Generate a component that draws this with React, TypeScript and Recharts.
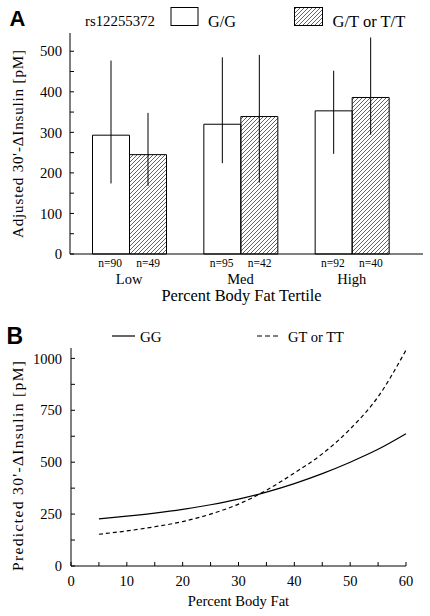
import React from "react";
import {
  BarChart,
  Bar,
  ErrorBar,
  LineChart,
  Line,
  XAxis,
  YAxis,
} from "recharts";

// Panel A: tertiles of body fat
const tertiles = ["Low", "Med", "High"];
const meanGG = [293, 320, 353];
const lowGG = [174, 224, 247];
const highGG = [477, 485, 452];
const meanGT = [245, 339, 386];
const lowGT = [168, 176, 294];
const highGT = [348, 491, 534];
const nGG = [90, 95, 92];
const nGT = [49, 42, 40];
const yTicksA = [0, 50, 100, 150, 200, 250, 300, 350, 400, 450, 500];

// Panel B: predicted curves
const fatPct = [5, 10, 15, 20, 25, 30, 35, 40, 45, 50, 55, 60];
const predGG = [227, 240, 255, 273, 295, 322, 356, 397, 445, 500, 562, 637];
const predGT = [153, 169, 189, 214, 250, 298, 365, 448, 540, 660, 815, 1040];
const xTicksB = [0, 5, 10, 15, 20, 25, 30, 35, 40, 45, 50, 55, 60];
const yTicksB = [0, 125, 250, 375, 500, 625, 750, 875, 1000];

const SERIF = "Liberation Serif";
const SANS = "Liberation Sans";

const barData = tertiles.map((t, i) => ({
  tertile: t,
  gg: meanGG[i],
  gt: meanGT[i],
  ggErr: [meanGG[i] - lowGG[i], highGG[i] - meanGG[i]],
  gtErr: [meanGT[i] - lowGT[i], highGT[i] - meanGT[i]],
}));

const lineData = fatPct.map((f, i) => ({ fat: f, gg: predGG[i], gt: predGT[i] }));

function Hatch({ id }: { id: string }) {
  return (
    <pattern id={id} patternUnits="userSpaceOnUse" width={4} height={4}>
      <path d="M-1,1 L1,-1 M0,4 L4,0 M3,5 L5,3" stroke="#222" strokeWidth={0.7} />
    </pattern>
  );
}

function TertileTick(props: any) {
  const { x, y, payload } = props;
  const i = tertiles.indexOf(payload.value);
  return (
    <g style={{ fontFamily: SERIF }} fill="#000">
      <text x={x - 19} y={y + 12.5} textAnchor="middle" fontSize={11.5}>
        n={nGG[i]}
      </text>
      <text x={x + 19} y={y + 12.5} textAnchor="middle" fontSize={11.5}>
        n={nGT[i]}
      </text>
      <text x={x} y={y + 29.5} textAnchor="middle" fontSize={14.5}>
        {payload.value}
      </text>
    </g>
  );
}

const tickA = { fontSize: 14.7, fill: "#000" };
const tickB = { fontSize: 14.5, fill: "#000" };

export default function App() {
  return (
    <div
      style={{
        position: "absolute",
        left: 0,
        top: 0,
        width: 430,
        height: 616,
        background: "#fff",
        fontFamily: SERIF,
      }}
    >
      <div style={{ position: "absolute", left: 0, top: 0 }}>
        <BarChart
          width={430}
          height={310}
          data={barData}
          margin={{ top: 33, right: 7, bottom: 0, left: 30 }}
          barGap={0}
          barSize={37}
        >
          <defs>
            <Hatch id="hatchBar" />
          </defs>
          <XAxis
            dataKey="tertile"
            height={56}
            padding={{ left: 3.5, right: 15.5 }}
            tickLine={false}
            tickSize={0}
            tickMargin={0}
            axisLine={{ stroke: "#000" }}
            tick={<TertileTick />}
            label={{
              value: "Percent Body Fat Tertile",
              position: "insideBottom",
              offset: 9,
              dx: -5,
              style: { fontSize: 16.4, fill: "#000" },
            }}
          />
          <XAxis xAxisId="top" dataKey="tertile" orientation="top" height={0} tick={false} tickLine={false} axisLine={{ stroke: "#000" }} />
          <YAxis
            width={40}
            domain={[0, 545]}
            ticks={yTicksA}
            interval={0}
            tickFormatter={(v: number) => (v % 100 === 0 ? String(v) : "")}
            tick={tickA}
            tickSize={-4}
            tickMargin={12}
            tickLine={{ stroke: "#000" }}
            axisLine={{ stroke: "#000" }}
          />
          <YAxis yAxisId="right" orientation="right" width={0} tick={false} tickLine={false} axisLine={{ stroke: "#000" }} />
          <Bar dataKey="gg" fill="#fff" stroke="#000" strokeWidth={1} isAnimationActive={false}>
            <ErrorBar dataKey="ggErr" width={0} stroke="#000" strokeWidth={1} direction="y" />
          </Bar>
          <Bar dataKey="gt" fill="url(#hatchBar)" stroke="#000" strokeWidth={1} isAnimationActive={false}>
            <ErrorBar dataKey="gtErr" width={0} stroke="#000" strokeWidth={1} direction="y" />
          </Bar>
        </BarChart>
      </div>

      <div style={{ position: "absolute", left: 0, top: 310 }}>
        <LineChart
          width={430}
          height={306}
          data={lineData}
          margin={{ top: 38, right: 24, bottom: 0, left: 31 }}
        >
          <XAxis
            dataKey="fat"
            type="number"
            domain={[0, 60]}
            ticks={xTicksB}
            interval={0}
            height={50}
            tickFormatter={(v: number) => (v % 10 === 0 ? String(v) : "")}
            tick={tickB}
            tickSize={-4}
            tickMargin={14}
            tickLine={{ stroke: "#000" }}
            axisLine={{ stroke: "#000" }}
            label={{
              value: "Percent Body Fat",
              position: "insideBottom",
              offset: 10,
              style: { fontSize: 14.6, fill: "#000" },
            }}
          />
          <XAxis xAxisId="top" type="number" domain={[0, 60]} orientation="top" height={0} tick={false} tickLine={false} axisLine={{ stroke: "#000" }} />
          <YAxis
            width={40}
            domain={[0, 1050]}
            ticks={yTicksB}
            interval={0}
            tickFormatter={(v: number) => (v % 250 === 0 ? String(v) : "")}
            tick={tickB}
            tickSize={-4}
            tickMargin={13}
            tickLine={{ stroke: "#000" }}
            axisLine={{ stroke: "#000" }}
          />
          <YAxis yAxisId="right" orientation="right" width={0} tick={false} tickLine={false} axisLine={{ stroke: "#000" }} />
          <Line type="monotone" dataKey="gg" stroke="#000" strokeWidth={1.2} dot={false} isAnimationActive={false} />
          <Line type="monotone" dataKey="gt" stroke="#000" strokeWidth={1.2} strokeDasharray="4 3" dot={false} isAnimationActive={false} />
        </LineChart>
      </div>

      {/* panel letters, keys and y titles */}
      <svg width={430} height={616} style={{ position: "absolute", left: 0, top: 0, pointerEvents: "none" }}>
        <defs>
          <Hatch id="hatchKey" />
        </defs>
        <text x={9.5} y={26} style={{ fontFamily: SANS }} fontWeight="bold" fontSize={22}>A</text>
        <text x={6.5} y={344} style={{ fontFamily: SANS }} fontWeight="bold" fontSize={23}>B</text>

        <g fill="#000">
          <text x={85} y={26} fontSize={14.8}>rs12255372</text>
          <rect x={171} y={7.5} width={27} height={18} fill="#fff" stroke="#000" />
          <text x={208} y={26.5} fontSize={16.3}>G/G</text>
          <rect x={294.5} y={7.5} width={28} height={18} fill="url(#hatchKey)" stroke="#000" />
          <text x={332.5} y={26.5} fontSize={16.5}>G/T or T/T</text>

          <line x1={112} x2={135} y1={336} y2={336} stroke="#000" strokeWidth={1.2} />
          <text x={140} y={342} fontSize={15}>GG</text>
          <line x1={257} x2={279} y1={336} y2={336} stroke="#000" strokeWidth={1.2} strokeDasharray="5 3" />
          <text x={288} y={342} fontSize={14.5}>GT or TT</text>

          <text
            transform="translate(18,144) rotate(-90)"
            textAnchor="middle"
            dominantBaseline="central"
            fontSize={15}
            textLength={188}
            lengthAdjust="spacing"
          >
            Adjusted 30'-ΔInsulin [pM]
          </text>
          <text
            transform="translate(17,466) rotate(-90)"
            textAnchor="middle"
            dominantBaseline="central"
            fontSize={15.5}
            textLength={210}
            lengthAdjust="spacing"
          >
            Predicted 30'-ΔInsulin [pM]
          </text>
        </g>
      </svg>
    </div>
  );
}
